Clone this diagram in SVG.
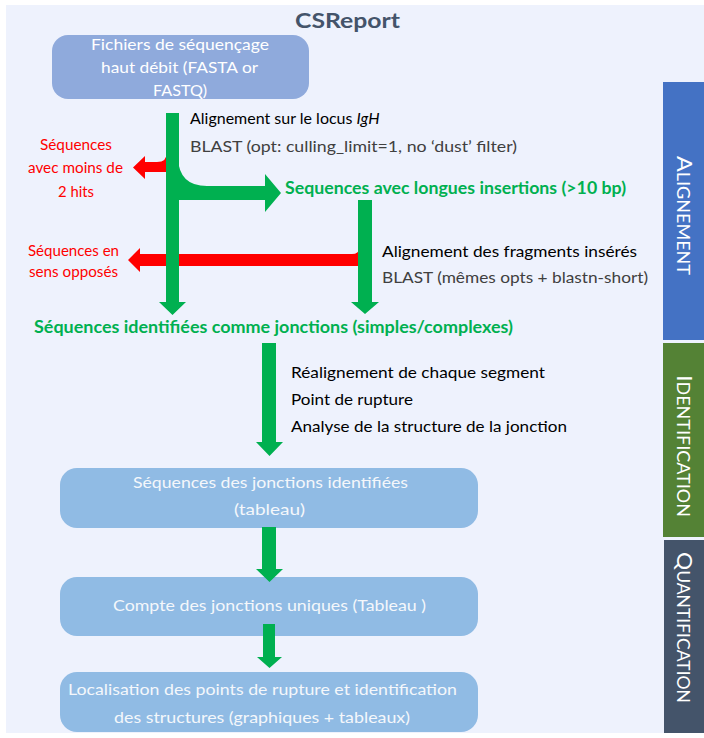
<svg xmlns="http://www.w3.org/2000/svg" width="704" height="738" viewBox="0 0 704 738">
<style>
text{font-family:Lato,"Liberation Sans",sans-serif;}
.t{font-size:16px;fill:#000}
.g{font-size:16px;fill:#404040}
.gb{font-size:16.5px;font-weight:700;fill:#00B050}
.r{font-size:14.5px;fill:#FF0000}
.nt{font-size:16px;fill:#FFFFFF}
.nt2{font-size:16px;fill:#F4F7FB}
.side{fill:#FFFFFF}
.big{font-size:22px}
.sm{font-size:17px}
.ga{fill:#00B050}
.ra{fill:#FF0000}
.n1{fill:#8FAADC}
.n2{fill:#90BBE4}
</style>
<rect x="0" y="0" width="704" height="738" fill="#FFFFFF"/>
<rect x="6" y="5" width="698" height="728" fill="#EEF2FD"/>
<text x="295" y="28" textLength="105" lengthAdjust="spacingAndGlyphs" style="font-size:21px;font-weight:700;fill:#44546A">CSReport</text>

<g id="bar-alignement">
<rect x="663" y="82" width="41" height="258" fill="#4472C4"/>
<text class="side" transform="translate(677,156) rotate(90)" textLength="119" lengthAdjust="spacingAndGlyphs"><tspan class="big">A</tspan><tspan class="sm">LIGNEMENT</tspan></text>
</g>
<g id="bar-identification">
<rect x="663" y="343" width="41" height="194" fill="#548235"/>
<text class="side" transform="translate(677,375) rotate(90)" textLength="142" lengthAdjust="spacingAndGlyphs"><tspan class="big">I</tspan><tspan class="sm">DENTIFICATION</tspan></text>
</g>
<g id="bar-quantification">
<rect x="664" y="540" width="40" height="193" fill="#44546A"/>
<text class="side" transform="translate(677,552) rotate(90)" textLength="151" lengthAdjust="spacingAndGlyphs"><tspan class="big">Q</tspan><tspan class="sm">UANTIFICATION</tspan></text>
</g>

<g id="node-fichiers">
<rect class="n1" x="52" y="35" width="257" height="64" rx="16"/>
<text class="nt" x="91" y="50" textLength="178" lengthAdjust="spacingAndGlyphs">Fichiers de séquençage</text>
<text class="nt" x="101" y="73" textLength="157" lengthAdjust="spacingAndGlyphs">haut débit (FASTA or</text>
<text class="nt" x="153" y="95.5" textLength="54" lengthAdjust="spacingAndGlyphs">FASTQ)</text>
</g>

<g id="node-jonctions">
<rect class="n2" x="60" y="468" width="418" height="60" rx="17"/>
<text class="nt2" x="133" y="488" textLength="275" lengthAdjust="spacingAndGlyphs">Séquences des jonctions identifiées</text>
<text class="nt2" x="234" y="515" textLength="71" lengthAdjust="spacingAndGlyphs">(tableau)</text>
</g>

<g id="node-compte">
<rect class="n2" x="60" y="577" width="418" height="59" rx="17"/>
<text class="nt2" x="113" y="611" textLength="313" lengthAdjust="spacingAndGlyphs">Compte des jonctions uniques (Tableau )</text>
</g>

<g id="node-localisation">
<rect class="n2" x="60" y="672" width="418" height="60" rx="17"/>
<text class="nt2" x="68" y="695" textLength="389" lengthAdjust="spacingAndGlyphs">Localisation des points de rupture et identification</text>
<text class="nt2" x="114" y="723" textLength="296" lengthAdjust="spacingAndGlyphs">des structures (graphiques + tableaux)</text>
</g>

<g id="connectors">
<path class="ra" d="M167,152 Q167,162 157,162 H145 V156 L133,167.5 L145,179 V172 H168 Z"/>
<path class="ra" d="M359,248 Q359,254 352,254 H140 V248 L128,260 L140,272 V266 H359 Z"/>
<path class="ga" d="M166,113 H179 V302 H186 L172.5,315 L159,302 H166 Z"/>
<path class="ga" d="M178,158 Q179,186 207,186 H265 V174 L281,193 L265,212 V200 H178 Z"/>
<path class="ga" d="M358,200 H372 V302 H379 L365,314 L351,302 H358 Z"/>
<path class="ga" d="M262,343 H276 V442 H283 L269.5,456 L256,442 H262 Z"/>
<path class="ga" d="M262,527 H276 V569 H283 L269.5,582 L256,569 H262 Z"/>
<path class="ga" d="M263,624 H275 V657 H282 L269.5,668 L257,657 H263 Z"/>
</g>

<g id="labels">
<text class="t" x="190" y="124">Alignement sur le locus <tspan font-style="italic">IgH</tspan></text>
<text class="g" x="190" y="152" textLength="327" lengthAdjust="spacingAndGlyphs">BLAST (opt: culling_limit=1, no ‘dust’ filter)</text>
<text class="r" x="40" y="150" textLength="72" lengthAdjust="spacingAndGlyphs">Séquences</text>
<text class="r" x="28" y="173" textLength="95" lengthAdjust="spacingAndGlyphs">avec moins de</text>
<text class="r" x="58" y="197" textLength="36" lengthAdjust="spacingAndGlyphs">2 hits</text>
<text class="gb" x="285" y="194" textLength="341" lengthAdjust="spacingAndGlyphs">Sequences avec longues insertions (&gt;10 bp)</text>
<text class="r" x="28" y="256" textLength="91" lengthAdjust="spacingAndGlyphs">Séquences en</text>
<text class="r" x="29" y="277" textLength="89" lengthAdjust="spacingAndGlyphs">sens opposés</text>
<text class="t" x="382" y="257" textLength="255" lengthAdjust="spacingAndGlyphs">Alignement des fragments insérés</text>
<text class="g" x="382" y="283" textLength="266" lengthAdjust="spacingAndGlyphs">BLAST (mêmes opts + blastn-short)</text>
<text class="gb" x="34" y="333" textLength="479" lengthAdjust="spacingAndGlyphs">Séquences identifiées comme jonctions (simples/complexes)</text>
<text class="t" x="291" y="378" textLength="254" lengthAdjust="spacingAndGlyphs">Réalignement de chaque segment</text>
<text class="t" x="291" y="405" textLength="122" lengthAdjust="spacingAndGlyphs">Point de rupture</text>
<text class="t" x="291" y="432" textLength="276" lengthAdjust="spacingAndGlyphs">Analyse de la structure de la jonction</text>
</g>
</svg>
